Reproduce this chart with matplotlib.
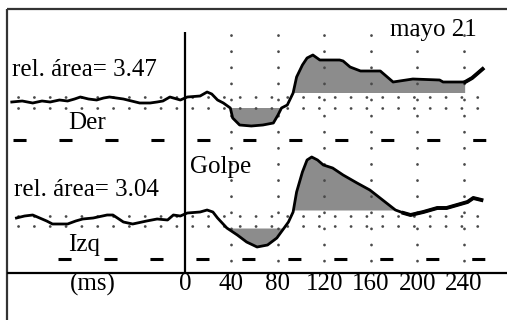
import matplotlib
matplotlib.use("Agg")
import matplotlib.pyplot as plt
import numpy as np

plt.rcParams['lines.scale_dashes'] = False

# ---- data (time in ms, amplitude in arbitrary units) ----
der_t = [-149, -140, -131, -123, -116, -108, -101, -95, -90, -83, -76, -70, -65, -59, -53, -46,
         -39, -30, -24, -19, -13, -4, 2, 13, 19, 23, 28, 33, 39, 41, 47, 57, 67, 76, 80, 83,
         88, 93, 96, 101, 105, 110, 116, 133, 136, 142, 151, 168, 175, 179, 196, 219, 222,
         241, 247, 256]
der_v = [-2, -1, -3, -1, -2, 0, -1, 1, 3, 1, 0, 2, 3, 2, 1, -1,
         -3, -3, -2, -1, 3, 0, 3, 4, 8, 6, 0, -3, -8, -18, -25, -26, -25, -23, -15, -8,
         -5, 7, 23, 35, 42, 45, 40, 40, 39, 33, 29, 29, 22, 18, 21, 20, 18,
         18, 22, 31]

izq_t = [-145, -138, -131, -125, -119, -114, -101, -94, -88, -79, -67, -62, -53, -45, -33, -24,
         -15, -10, -4, 2, 13, 19, 24, 28, 36, 45, 53, 62, 71, 79, 84, 89, 93, 96, 101,
         105, 109, 114, 119, 127, 136, 148, 159, 170, 181, 188, 194, 205, 217, 225, 234,
         243, 248, 255]
izq_v = [2, 4, 5, 2, -1, -4, -4, -1, 1, 2, 5, 5, -2, -4, -1, 1,
         0, 5, 4, 7, 8, 10, 8, 2, -8, -15, -22, -27, -25, -18, -10, -2, 8, 28, 48,
         60, 63, 60, 55, 52, 45, 37, 30, 20, 10, 7, 5, 8, 12, 12, 15,
         18, 22, 20]

tick_vals = [0, 40, 80, 120, 160, 200, 240]
grid_vals = [40, 80, 120, 160, 200, 240]
area_der = 3.47
area_izq = 3.04

# ---- layout helpers (pixel -> data) ----
W, H = 507, 320
def ms(px):
    return (px - 185) * 40 / 46.5

fig = plt.figure(figsize=(W / 100, H / 100), dpi=100)
ax = fig.add_axes([0, 0, 1, 1])
ax.set_xlim(ms(0), ms(W))
ax.set_ylim(H, 0)
ax.axis('off')

serif = ['Liberation Serif', 'DejaVu Serif']
dot_col = '#4a4a4a'
fill_col = '#8c8c8c'

# frame (top and left)
ax.plot([ms(7), ms(W)], [9, 9], color='#333333', lw=1.6, solid_capstyle='butt')
ax.plot([ms(7), ms(7)], [9, H], color='#333333', lw=1.6, solid_capstyle='butt')

# dotted rows
for yy in (97, 108, 216, 226):
    ax.plot([ms(18), ms(492)], [yy, yy], color=dot_col, lw=2.0,
            linestyle=(0, (0.1, 11.3)), dash_capstyle='round')
# dotted columns
for g in grid_vals:
    ax.plot([g, g], [35, 268], color=dot_col, lw=2.0,
            linestyle=(0, (0.1, 11.5)), dash_capstyle='round')

# dashed lines
ax.plot([ms(13), ms(492)], [140, 140], color='black', lw=2.2,
        linestyle=(0, (9.4, 23.7)), dash_capstyle='butt')
ax.plot([ms(58), ms(492)], [259, 259], color='black', lw=2.2,
        linestyle=(0, (9.4, 23.7)), dash_capstyle='butt')

# traces with fills
def trace(t, v, base, hi, lo, tmax):
    t = np.asarray(t, float)
    v = np.asarray(v, float)
    y = base - v
    win = (t >= 0) & (t <= tmax)
    ax.fill_between(t, y, base - hi, where=(v > hi) & win, interpolate=True,
                    color=fill_col, lw=0)
    ax.fill_between(t, y, base - lo, where=(v < lo) & win, interpolate=True,
                    color=fill_col, lw=0)
    ax.plot(t, y, color='black', lw=2.0, solid_joinstyle='round')
    # thicker tail after the analysis window
    tail = t >= tmax - 2
    ax.plot(t[tail], y[tail], color='black', lw=2.8, solid_joinstyle='round')

trace(der_t, der_v, 100, 7, -7.5, 242)
trace(izq_t, izq_v, 220, 10, -8, 185)

# axes lines
ax.plot([ms(7), ms(W)], [273, 273], color='black', lw=1.6, solid_capstyle='butt')
ax.plot([0, 0], [32, 273], color='black', lw=1.6, solid_capstyle='butt')

# texts
fs = 18
ax.text(ms(12), 70, f'rel. área= {area_der:.2f}', fontsize=fs, family=serif,
        ha='left', va='center')
ax.text(ms(14), 190, f'rel. área= {area_izq:.2f}', fontsize=fs, family=serif,
        ha='left', va='center')
ax.text(ms(68), 123, 'Der', fontsize=fs, family=serif, ha='left', va='center')
ax.text(ms(68), 245, 'Izq', fontsize=fs, family=serif, ha='left', va='center')
ax.text(ms(190), 167, 'Golpe', fontsize=fs, family=serif, ha='left', va='center')
ax.text(ms(390), 30, 'mayo 21', fontsize=fs, family=serif, ha='left', va='center')
ax.text(ms(70), 284, '(ms)', fontsize=fs, family=serif, ha='left', va='center')
for tv in tick_vals:
    ax.text(tv, 284, str(tv), fontsize=fs, family=serif, ha='center', va='center')

fig.savefig('out.png', dpi=100, facecolor='white')
